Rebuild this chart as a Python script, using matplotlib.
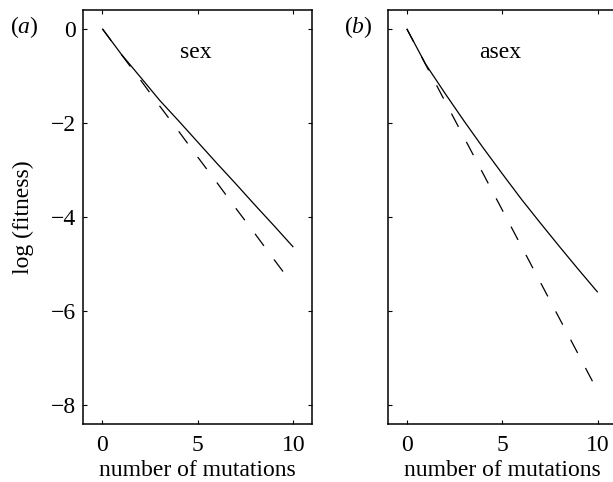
import matplotlib
matplotlib.use("Agg")
import matplotlib.pyplot as plt

plt.rcParams['font.family'] = ['Liberation Serif', 'DejaVu Serif']
plt.rcParams['mathtext.fontset'] = 'custom'
plt.rcParams['mathtext.rm'] = 'Liberation Serif'
plt.rcParams['mathtext.it'] = 'Liberation Serif:italic'
plt.rcParams['lines.scale_dashes'] = False

# ---- data ----
mutations = [0, 1, 2, 3, 4, 5, 6, 7, 8, 9, 10]
sex_solid = [0, -0.545, -1.03, -1.52, -1.96, -2.41, -2.86, -3.30, -3.75, -4.19, -4.64]
sex_dashed_x = [0, 1, 2, 3, 4, 5, 6, 7, 8, 9, 9.5]
sex_dashed = [0, -0.55, -1.09, -1.64, -2.18, -2.73, -3.27, -3.82, -4.36, -4.91, -5.18]

asex_solid = [0, -0.76, -1.37, -1.96, -2.53, -3.08, -3.62, -4.13, -4.63, -5.12, -5.60]
asex_dashed_x = [0, 1, 2, 3, 4, 5, 6, 7, 8, 9, 9.8]
asex_dashed = [0, -0.77, -1.54, -2.31, -3.08, -3.85, -4.62, -5.39, -6.16, -6.93, -7.55]

x_ticks = [0, 5, 10]
y_ticks = [0, -2, -4, -6, -8]
panel_titles = ['sex', 'asex']
panel_labels = ['$(a)$', '$(b)$']
xlabel = 'number of mutations'
ylabel = 'log (fitness)'

W, H = 613, 482
fig = plt.figure(figsize=(W / 100, H / 100), dpi=100)

ax_w = 229.1 / W
ax_h = 414 / H
ax_b = 58 / H
ax1 = fig.add_axes([83.3 / W, ax_b, ax_w, ax_h])
ax2 = fig.add_axes([387.7 / W, ax_b, ax_w, ax_h])

FS = 17
series = [(sex_solid, sex_dashed_x, sex_dashed), (asex_solid, asex_dashed_x, asex_dashed)]
for i, (ax, (solid, dx, dy)) in enumerate(zip([ax1, ax2], series)):
    ax.plot(mutations, solid, color='black', lw=0.9, solid_capstyle='butt')
    ln, = ax.plot(dx, dy, color='black', lw=0.9, dash_capstyle='butt')
    ln.set_dashes((10.8, 12.2))
    ax.set_xlim(-1, 11)
    ax.set_ylim(-8.4, 0.4)
    ax.set_xticks(x_ticks)
    ax.set_yticks(y_ticks)
    ax.tick_params(direction='in', top=True, right=True, length=3, width=0.8,
                   labelsize=FS)
    ax.tick_params(axis='x', pad=8.0)
    ax.tick_params(axis='y', pad=5.3)
    for s in ax.spines.values():
        s.set_linewidth(1.1)
    ax.text(4.9, -0.62, panel_titles[i], fontsize=FS, ha='center', va='baseline')
    ax.set_xlabel(xlabel, fontsize=FS, labelpad=3.0)

ax2.tick_params(axis='y', labelleft=False)
ax1.set_ylabel(ylabel, fontsize=FS, va='center')
ax1.yaxis.set_label_coords(-0.263, 0.5)

fig.text(24 / W, 1 - 33 / H, panel_labels[0], fontsize=FS, ha='center', va='baseline')
fig.text(358 / W, 1 - 33 / H, panel_labels[1], fontsize=FS, ha='center', va='baseline')

fig.savefig('out.png', dpi=100)
